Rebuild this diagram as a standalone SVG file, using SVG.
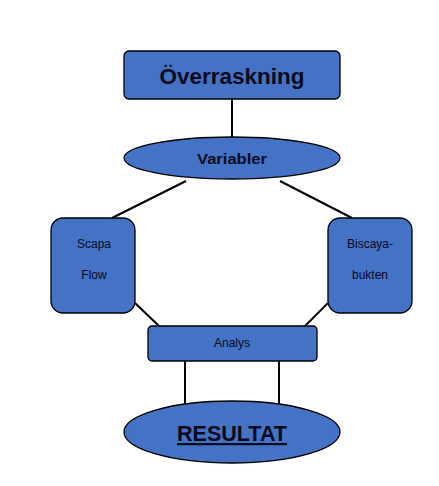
<svg xmlns="http://www.w3.org/2000/svg" width="439" height="486" viewBox="0 0 439 486">
<style>
.n{fill:#4472C4;stroke:#000;stroke-width:1.3}
.c line{stroke:#000;stroke-width:2}
text{font-family:"Liberation Sans","Open Sans",sans-serif;fill:#0a0a1e;text-anchor:middle}
.b{font-weight:bold}
.s{font-size:12px}
</style>
<rect width="439" height="486" fill="#fff"/>
<g class="c" id="connectors">
<line x1="232" y1="99" x2="232" y2="137"/>
<line x1="186" y1="181" x2="112" y2="218"/>
<line x1="280" y1="181" x2="352" y2="218"/>
<line x1="135" y1="303" x2="160" y2="327"/>
<line x1="328" y1="303" x2="304" y2="327"/>
<line x1="185" y1="361" x2="185" y2="404"/>
<line x1="279" y1="361" x2="279" y2="404"/>
</g>
<g id="overraskning">
<rect class="n" x="124" y="51" width="216" height="48" rx="5"/>
<text class="b" x="232" y="84" font-size="22" textLength="145" lengthAdjust="spacingAndGlyphs">Överraskning</text>
</g>
<g id="variabler">
<ellipse class="n" cx="232" cy="158" rx="108" ry="21"/>
<text class="b" x="232" y="164" font-size="15" textLength="70" lengthAdjust="spacingAndGlyphs">Variabler</text>
</g>
<g id="scapa">
<rect class="n" x="51" y="218" width="84" height="95" rx="12"/>
<text class="s" x="94" y="248">Scapa</text>
<text class="s" x="94" y="279">Flow</text>
</g>
<g id="biscaya">
<rect class="n" x="328" y="218" width="84" height="95" rx="12"/>
<text class="s" x="370" y="248">Biscaya-</text>
<text class="s" x="370" y="279">bukten</text>
</g>
<g id="analys">
<rect class="n" x="148" y="326" width="169" height="35" rx="4"/>
<text class="s" x="232" y="347">Analys</text>
</g>
<g id="resultat">
<ellipse class="n" cx="232" cy="432" rx="108" ry="31"/>
<text class="b" x="232" y="441" font-size="22" text-decoration="underline" textLength="110" lengthAdjust="spacingAndGlyphs">RESULTAT</text>
</g>
</svg>
